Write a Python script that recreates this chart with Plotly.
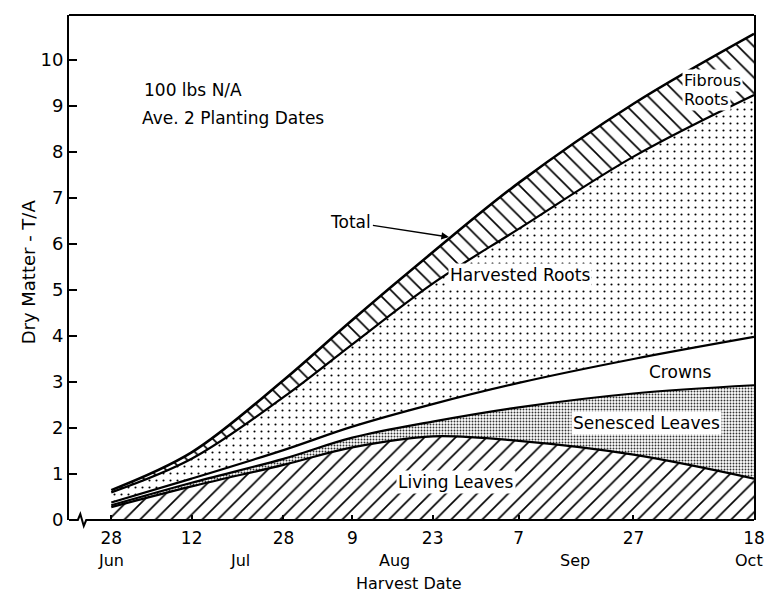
import numpy as np
import plotly.graph_objects as go

# ---- data (T/A dry matter) ----
harvest_dates = ["1980-06-28", "1980-07-12", "1980-07-28", "1980-08-09",
                 "1980-08-23", "1980-09-07", "1980-09-27", "1980-10-18"]
tick_labels = ["28", "12", "28", "9", "23", "7", "27", "18"]
month_labels = ["Jun", "Jul", "Aug", "Sep", "Oct"]
month_positions = ["1980-06-28", "1980-07-20 12:00", "1980-08-16 10:00",
                   "1980-09-16 20:00", "1980-10-17 03:00"]

living_leaves = [0.28, 0.73, 1.20, 1.58, 1.82, 1.72, 1.42, 0.90]
senesced_leaves = [0.04, 0.08, 0.13, 0.21, 0.32, 0.73, 1.33, 2.03]
crowns = [0.06, 0.09, 0.19, 0.24, 0.38, 0.53, 0.75, 1.05]
harvested_roots = [0.22, 0.43, 1.15, 1.79, 2.62, 3.35, 4.40, 5.26]
fibrous_roots = [0.05, 0.14, 0.37, 0.53, 0.68, 1.00, 1.15, 1.33]

y_ticks = list(range(0, 11))

# cumulative boundaries
b1 = np.array(living_leaves)
b2 = b1 + np.array(senesced_leaves)
b3 = b2 + np.array(crowns)
b4 = b3 + np.array(harvested_roots)
b5 = b4 + np.array(fibrous_roots)

FONT = "DejaVu Sans"
fig = go.Figure()

def band(y, fill, pattern=None, width=2.2):
    kw = dict(x=harvest_dates, y=y, mode="lines", hoverinfo="skip",
              line=dict(color="black", width=width, shape="spline", smoothing=1.0),
              fill=fill, fillcolor="white", showlegend=False)
    if pattern is not None:
        kw["fillpattern"] = pattern
    fig.add_trace(go.Scatter(**kw))

band(b1, "tozeroy", dict(shape="/", size=11, solidity=0.15, fgcolor="black",
                         bgcolor="white", fillmode="replace"))
band(b2, "tonexty", dict(shape=".", size=3, solidity=0.32, fgcolor="#333333",
                         bgcolor="white", fillmode="replace"))
band(b3, "tonexty", None)
band(b4, "tonexty", dict(shape=".", size=7, solidity=0.07, fgcolor="black",
                         bgcolor="white", fillmode="replace"))
band(b5, "tonexty", dict(shape="\\", size=11, solidity=0.15, fgcolor="black",
                         bgcolor="white", fillmode="replace"), width=2.6)

# plot area pixel geometry: left 69, right 765, top 15, bottom 520
L, R, T, B = 69, 765, 15, 520
W, H = R - L, B - T

def px(x):
    return (x - L) / W

def py(y):
    return (B - y) / H

shapes = [
    dict(type="line", xref="paper", yref="paper", x0=0, x1=1, y0=1, y1=1,
         line=dict(color="black", width=2)),
    dict(type="path", xref="paper", yref="paper",
         path=(f"M {px(69)},{py(520)} L {px(78)},{py(520)} L {px(80.5)},{py(514)} "
               f"L {px(84)},{py(526)} L {px(86.5)},{py(520)} L {px(765)},{py(520)}"),
         line=dict(color="black", width=2)),
]

annotations = []
for m, pos in zip(month_labels, month_positions):
    annotations.append(dict(x=pos, y=0, xref="x", yref="paper", text=m,
                            showarrow=False, yshift=-40, yanchor="middle",
                            font=dict(family=FONT, size=16, color="black")))

def label(text, x, y, size=17, bg=None, xanchor="center"):
    d = dict(x=px(x), y=py(y), xref="paper", yref="paper", text=text,
             showarrow=False, xanchor=xanchor, yanchor="middle",
             font=dict(family=FONT, size=size, color="black"))
    if bg:
        d["bgcolor"] = bg
        d["borderpad"] = 1
    annotations.append(d)

label("100 lbs N/A", 143, 90, xanchor="left")
label("Ave. 2 Planting Dates", 141, 118, xanchor="left")
label("Harvested Roots", 527, 275, bg="white")
label("Crowns", 690, 372)
label("Senesced Leaves", 656, 423, bg="white")
label("Living Leaves", 462, 482, bg="white")
label("Fibrous", 692, 80, bg="white", xanchor="left", size=16)
label("Roots", 692, 99, bg="white", xanchor="left", size=16)
label("Harvest Date", 414, 583, size=16)

annotations.append(dict(x=px(15), y=py(272), xref="paper", yref="paper",
                        text="Dry Matter - T/A", textangle=-90, showarrow=False,
                        font=dict(family=FONT, size=18, color="black")))

# "Total" pointer
annotations.append(dict(x=px(455), y=py(237), xref="paper", yref="paper",
                        ax=-98, ay=-15, axref="pixel", ayref="pixel",
                        text="Total", showarrow=True, arrowhead=2, arrowsize=1,
                        arrowwidth=1.5, arrowcolor="black",
                        font=dict(family=FONT, size=17, color="black")))

fig.update_layout(
    width=776, height=595,
    margin=dict(l=L, r=776 - R, t=T, b=595 - B),
    paper_bgcolor="white", plot_bgcolor="white",
    shapes=shapes, annotations=annotations,
    xaxis=dict(type="date", range=["1980-06-20 15:07", "1980-10-18"],
               tickvals=harvest_dates, ticktext=tick_labels,
               ticks="inside", ticklen=5, tickwidth=1.5, tickcolor="black",
               ticklabelstandoff=6,
               showline=False, showgrid=False, zeroline=False,
               tickfont=dict(family=FONT, size=17, color="black")),
    yaxis=dict(range=[0, 10.98], tickvals=y_ticks,
               ticks="inside", ticklen=8, tickwidth=2, tickcolor="black",
               showline=True, linewidth=2, linecolor="black", mirror=True,
               showgrid=False, zeroline=False,
               tickfont=dict(family=FONT, size=18, color="black")),
)

fig.write_html("out.html")
